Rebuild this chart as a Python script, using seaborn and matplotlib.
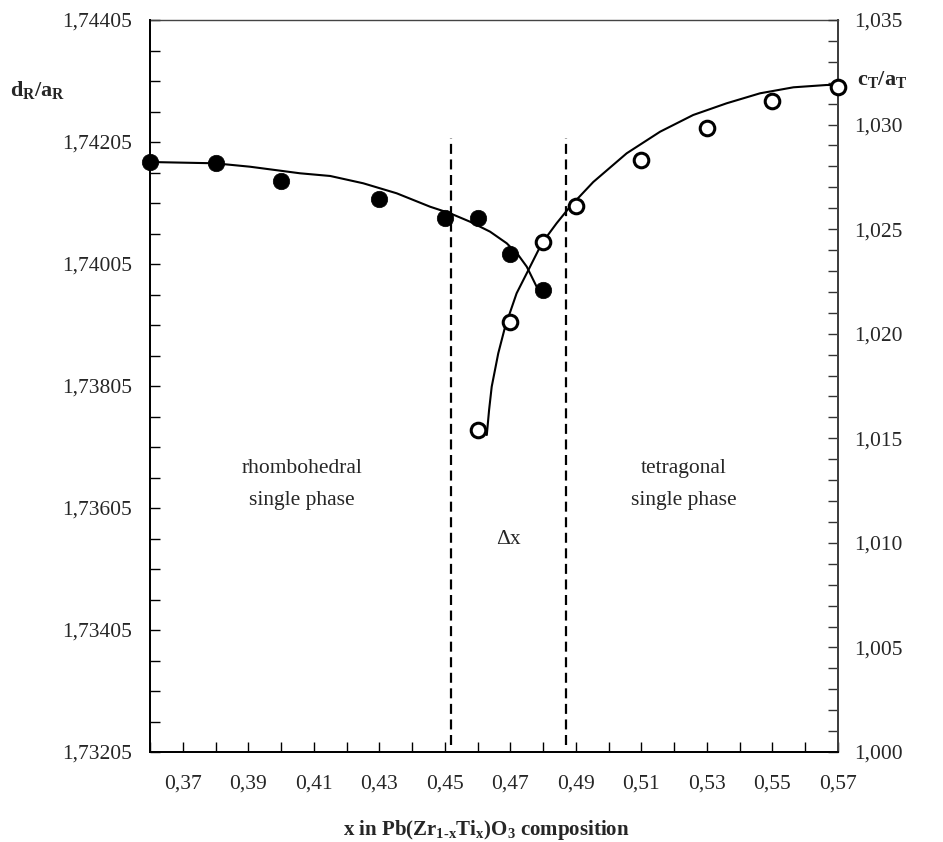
import numpy as np
import pandas as pd
import matplotlib
matplotlib.use("Agg")
import matplotlib.pyplot as plt
from matplotlib.ticker import FixedLocator
import seaborn as sns

# ---------------- data ----------------
x_rhombo = [0.36, 0.38, 0.40, 0.43, 0.45, 0.46, 0.47, 0.48]
d_over_a = [1.74172, 1.74171, 1.74141, 1.74111, 1.74081, 1.74080, 1.74021, 1.73962]

x_tetra = [0.46, 0.47, 0.48, 0.49, 0.51, 0.53, 0.55, 0.57]
c_over_a = [1.01540, 1.02058, 1.02440, 1.02610, 1.02831, 1.02982, 1.03113, 1.03181]

# guide curves
curve_r_x = [0.3600, 0.3798, 0.3905, 0.4058, 0.4150, 0.4251, 0.4353, 0.4455,
             0.4516, 0.4577, 0.4638, 0.4689, 0.4724, 0.4750, 0.4770, 0.4785]
curve_r_y = [1.741722, 1.741701, 1.741645, 1.741537, 1.741493, 1.741373, 1.741209,
             1.740989, 1.740881, 1.740743, 1.740580, 1.740389, 1.740198, 1.740006,
             1.739788, 1.739624]

curve_t_x = [0.4628, 0.4635, 0.4643, 0.4663, 0.4684, 0.4719, 0.4755, 0.4796, 0.4841,
             0.4882, 0.4953, 0.5055, 0.5157, 0.5258, 0.5360, 0.5462, 0.5564, 0.5665,
             0.5700]
curve_t_y = [1.015157, 1.016353, 1.017467, 1.019063, 1.020336, 1.021932, 1.023046,
             1.024323, 1.025279, 1.026073, 1.027254, 1.028626, 1.029659, 1.030458,
             1.031017, 1.031495, 1.031782, 1.031892, 1.031892]

boundaries = [0.4519, 0.4870]

x_ticks_labeled = [0.37, 0.39, 0.41, 0.43, 0.45, 0.47, 0.49, 0.51, 0.53, 0.55, 0.57]
left_ticks_labeled = [1.73205, 1.73405, 1.73605, 1.73805, 1.74005, 1.74205, 1.74405]
right_ticks_labeled = [1.000, 1.005, 1.010, 1.015, 1.020, 1.025, 1.030, 1.035]

# ---------------- style ----------------
sns.set_theme(style="white")
plt.rcParams['font.family'] = ['Liberation Serif', 'DejaVu Serif']
plt.rcParams['mathtext.fontset'] = 'custom'
plt.rcParams['mathtext.rm'] = 'Liberation Serif'
plt.rcParams['mathtext.it'] = 'Liberation Serif:italic'
plt.rcParams['mathtext.bf'] = 'Liberation Serif:bold'

fig = plt.figure(figsize=(9.43, 8.42), dpi=100)
ax = fig.add_axes([150/943, 1-752/842, (838-150)/943, (752-20)/842])
ax2 = ax.twinx()

df_r = pd.DataFrame({"x": x_rhombo, "y": d_over_a})
df_t = pd.DataFrame({"x": x_tetra, "y": c_over_a})
cr = pd.DataFrame({"x": curve_r_x, "y": curve_r_y})
ct = pd.DataFrame({"x": curve_t_x, "y": curve_t_y})

sns.lineplot(data=cr, x="x", y="y", ax=ax, color="black", lw=1.5, sort=False,
             estimator=None, zorder=3)
sns.scatterplot(data=df_r, x="x", y="y", ax=ax, color="black", s=140,
                edgecolor="black", linewidth=0.5, zorder=4, clip_on=False)

sns.lineplot(data=ct, x="x", y="y", ax=ax2, color="black", lw=1.5, sort=False,
             estimator=None, zorder=3)
sns.scatterplot(data=df_t, x="x", y="y", ax=ax2, facecolor="white", s=110,
                edgecolor="black", linewidth=2.2, zorder=4, clip_on=False)

for b in boundaries:
    ax.axvline(b, ymin=0.0096, ymax=0.839, color="black", lw=1.6,
               ls=(0, (4.5, 2.5)), zorder=2)

ax.set_xlim(0.36, 0.57)
ax.set_ylim(1.73205, 1.74405)
ax2.set_ylim(1.000, 1.035)

# ticks
ax.xaxis.set_major_locator(FixedLocator(x_ticks_labeled))
ax.set_xticklabels([f"{v:.2f}".replace(".", ",") for v in x_ticks_labeled])
ax.xaxis.set_minor_locator(FixedLocator([0.36 + 0.02 * i for i in range(11)]))
ax.yaxis.set_major_locator(FixedLocator(left_ticks_labeled))
ax.set_yticklabels([f"{v:.5f}".replace(".", ",") for v in left_ticks_labeled])
ax.yaxis.set_minor_locator(FixedLocator([1.73205 + 0.0005 * i for i in range(25)]))
ax2.yaxis.set_major_locator(FixedLocator(right_ticks_labeled))
ax2.set_yticklabels([f"{v:.3f}".replace(".", ",") for v in right_ticks_labeled])
ax2.yaxis.set_minor_locator(FixedLocator([1.000 + 0.001 * i for i in range(36)]))

ax.tick_params(axis="x", which="both", direction="in", length=7, width=1.0,
               color="black", bottom=True, top=False, labelsize=15.5, pad=16.5)
ax.tick_params(axis="y", which="both", direction="in", length=7, width=1.0,
               color="black", left=True, right=False, labelsize=15.5, pad=13)
ax2.tick_params(axis="y", which="both", direction="in", length=7, width=1.0,
                color="#333333", right=True, left=False, labelsize=15.5, pad=12)

ax.set_xlabel("")
ax.set_ylabel("")
ax2.set_ylabel("")

for a in (ax, ax2):
    for s in a.spines.values():
        s.set_visible(True)
        s.set_color("black")
        s.set_linewidth(1.3)
ax.spines["top"].set_color("#444444")
ax.spines["top"].set_linewidth(1.0)
ax2.spines["top"].set_visible(False)
ax2.spines["right"].set_color("#444444")
ax2.spines["right"].set_linewidth(1.3)

# annotations
ax.text(0.4064, 1.73643, "rhombohedral\nsingle phase", ha="center", va="center",
        fontsize=15.5, linespacing=1.95)
ax.text(0.5230, 1.73643, "tetragonal\nsingle phase", ha="center", va="center",
        fontsize=15.5, linespacing=1.95)
ax.text(0.4693, 1.735526, "Δx", ha="center", va="center", fontsize=15.5)

fig.text(10/943, 1-90/842, r"$\mathbf{d_R/a_R}$", ha="left", va="center", fontsize=16)
fig.text(857/943, 1-79/842, r"$\mathbf{c_T/a_T}$", ha="left", va="center", fontsize=16)
fig.text(486/943, 1-830/842,
         r"x in Pb(Zr$_{\mathbf{1\text{-}x}}$Ti$_{\mathbf{x}}$)O$_{\mathbf{3}}$ composition",
         ha="center", va="center", fontsize=15, fontweight="bold")

fig.savefig("out.png", dpi=100, facecolor="white")
